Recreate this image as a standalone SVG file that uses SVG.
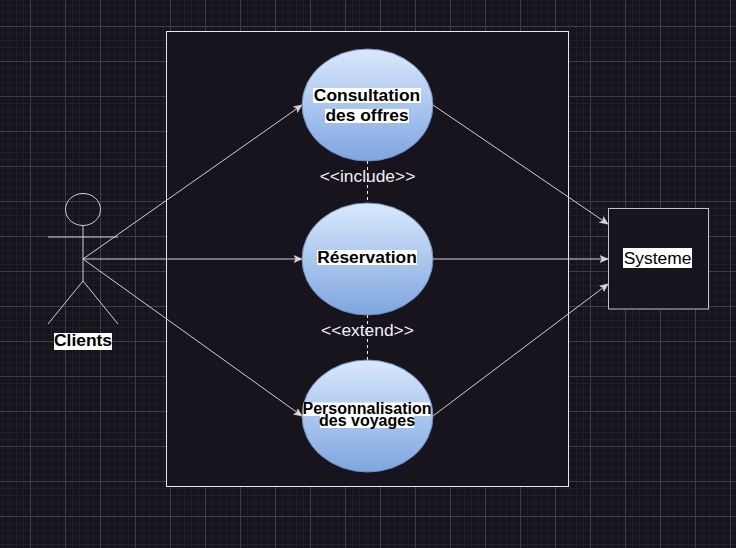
<svg xmlns="http://www.w3.org/2000/svg" width="736" height="548" viewBox="0 0 736 548">
<style>
.box{fill:#18141d;stroke:#e8e8e8;stroke-width:1}
.sys{fill:#18141d;stroke:#c4c4c4;stroke-width:1}
.uc{fill:url(#ucg);stroke:#6c8ebf;stroke-width:1}
.act{fill:none;stroke:#d0d0d0;stroke-width:1}
.c{fill:none;stroke:#d0d0d0;stroke-width:1;marker-end:url(#arr)}
.d{fill:none;stroke:#f0f0f0;stroke-width:1;stroke-dasharray:3 3}
.bg{fill:#fff}
.t{font-family:"Liberation Sans",Arial,sans-serif;font-size:17.4px;text-anchor:middle;fill:#000}
.b{font-weight:bold}
.s{font-size:16px}
.l{fill:#f0f0f0}
</style>
<defs>
<linearGradient id="ucg" x1="0" y1="0" x2="0" y2="1"><stop offset="0" stop-color="#dae8fc"/><stop offset="1" stop-color="#7ea6e0"/></linearGradient>
<pattern id="minor" width="7" height="7" patternUnits="userSpaceOnUse" x="2" y="5"><path d="M.5 0V7M0 .5H7" fill="none" stroke="#211e26" stroke-width="1"/></pattern>
<pattern id="major" width="35" height="35" patternUnits="userSpaceOnUse" x="30" y="26"><path d="M.5 0V35M0 .5H35" fill="none" stroke="#403e45" stroke-width="1"/></pattern>
<marker id="arr" markerUnits="userSpaceOnUse" markerWidth="10" markerHeight="10" refX="8" refY="4" orient="auto"><path d="M0 .5L8 4L0 7.5L2 4Z" fill="#d8d8d8" stroke="#d8d8d8" stroke-width=".6"/></marker>
</defs>
<rect width="736" height="548" fill="#18141d"/>
<rect width="736" height="548" fill="url(#minor)"/>
<rect width="736" height="548" fill="url(#major)"/>
<g id="boundary"><rect class="box" x="166.5" y="31.5" width="402" height="455"/></g>
<g id="systeme"><rect class="sys" x="608.5" y="208.500" width="100" height="100.500"/><rect class="bg" x="623" y="248" width="69" height="20"/><text class="t" x="657.500" y="264">Systeme</text></g>
<g id="connectors">
<path class="c" d="M83 259L302 105"/>
<path class="c" d="M83 259H302"/>
<path class="c" d="M83 259L302 416"/>
<path class="c" d="M433 105L608 224"/>
<path class="c" d="M433 259H608"/>
<path class="c" d="M433 416L608 284"/>
<path class="d" d="M367.5 161V203"/>
<path class="d" d="M367.5 315V360"/>
</g>
<g id="consultation"><ellipse class="uc" cx="367.5" cy="105" rx="65.5" ry="56"/><rect class="bg" x="313" y="88" width="108" height="15"/><rect class="bg" x="325" y="109" width="84" height="14"/><text class="t b" x="367" y="101">Consultation</text><text class="t b" x="367" y="121">des offres</text></g>
<g id="reservation"><ellipse class="uc" cx="367.5" cy="259" rx="65.5" ry="56"/><rect class="bg" x="317" y="250" width="100" height="15"/><text class="t b" x="367" y="263">Réservation</text></g>
<g id="personnalisation"><ellipse class="uc" cx="367.5" cy="416" rx="65.5" ry="56"/><rect class="bg" x="303" y="402.500" width="127" height="13.500"/><rect class="bg" x="320" y="416" width="94" height="12"/><text class="t b s" x="367" y="414">Personnalisation</text><text class="t b s" x="367" y="425.500">des voyages</text></g>
<g id="include"><text class="t l" x="367.500" y="182">&lt;&lt;include&gt;&gt;</text></g>
<g id="extend"><text class="t l" x="367.500" y="336">&lt;&lt;extend&gt;&gt;</text></g>
<g id="clients">
<ellipse class="act" cx="83" cy="209.500" rx="17.500" ry="16"/>
<path class="act" d="M83 225.500V281M48 237H118M83 281L48 324M83 281L118 324"/>
<rect class="bg" x="54" y="333" width="58" height="17"/>
<text class="t b" x="83" y="346">Clients</text>
</g>
</svg>
